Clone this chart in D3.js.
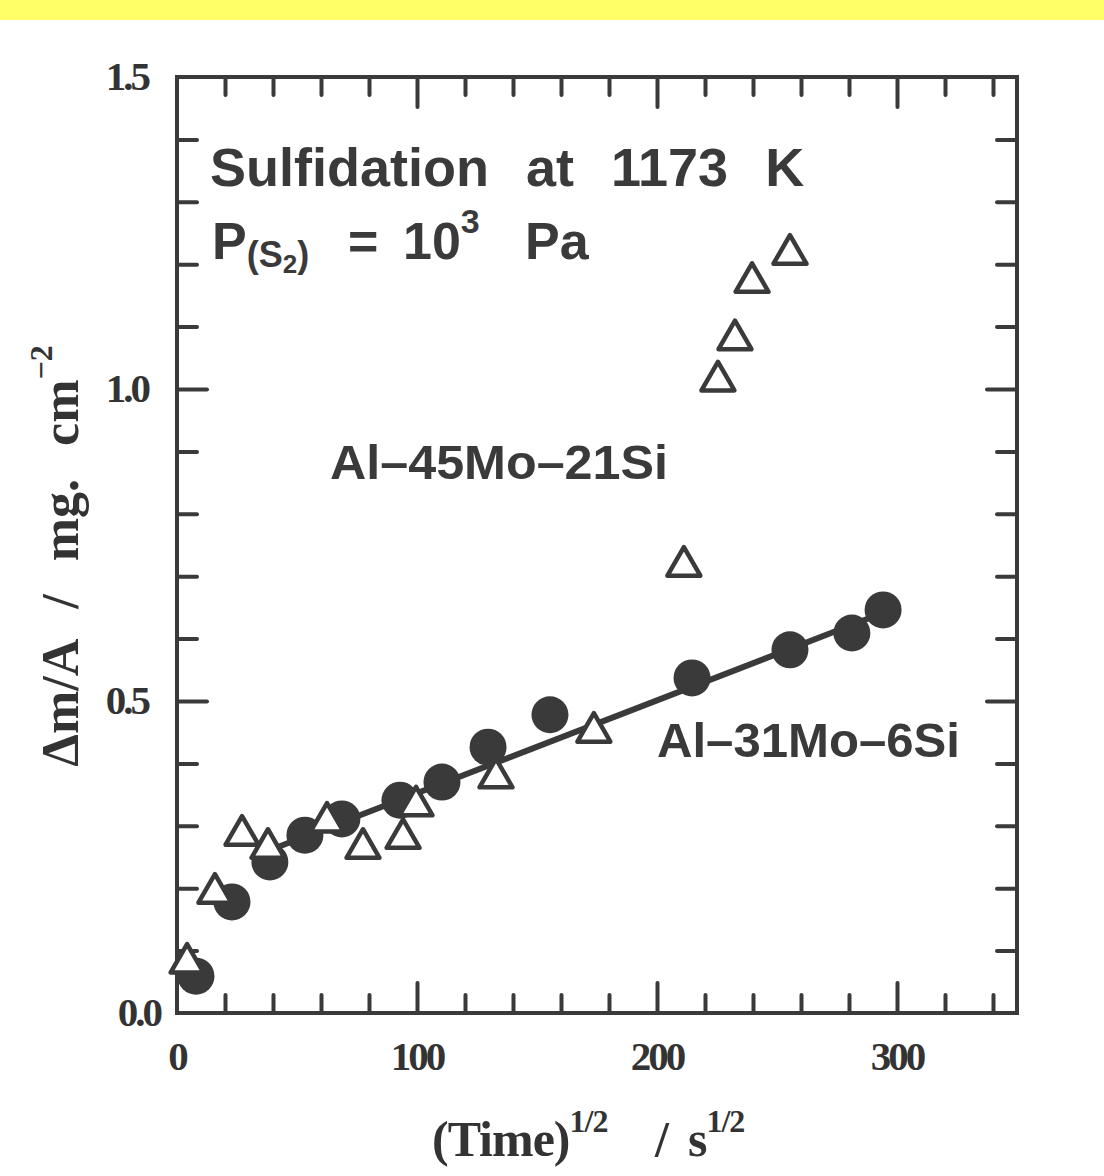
<!DOCTYPE html>
<html lang="en">
<head>
<meta charset="UTF-8">
<title>Sulfidation at 1173 K</title>
<style>
  body { margin: 0; background: #fff; }
  .serif { font-family: "Liberation Serif", "Times New Roman", serif; font-weight: bold; fill: #333; }
  .sans { font-family: "Liberation Sans", Arial, sans-serif; font-weight: bold; fill: #3a3a3a; }
</style>
</head>
<body>
<div id="chart"></div>
<script src="https://d3js.org/d3.v7.min.js"></script>
<script>

// Al-31Mo-6Si (filled circles)
var circX = [7.9, 22.9, 38.7, 53.3, 68.7, 92.9, 110.4, 129.6, 155.4, 214.6, 255.4, 281.2, 294.2];
var circY = [0.059, 0.178, 0.242, 0.285, 0.311, 0.341, 0.370, 0.426, 0.478, 0.537, 0.582, 0.609, 0.646];

// Al-45Mo-21Si (open triangles)
var triX = [4.2, 15.8, 27.1, 37.9, 62.5, 77.5, 94.2, 99.6, 132.9, 173.7, 211.2, 225.4, 232.5, 239.6, 255.4];
var triY = [0.080, 0.192, 0.285, 0.264, 0.306, 0.264, 0.280, 0.332, 0.377, 0.450, 0.716, 1.013, 1.079, 1.171, 1.216];

// straight fit through the circles
var fitX = [38, 294];
var fitY = [0.26, 0.641];

// ticks
var xMajor = [0, 100, 200, 300];
var xMinor = [20, 40, 60, 80, 120, 140, 160, 180, 220, 240, 260, 280, 320, 340];
var yMajor = [0, 0.5, 1.0, 1.5];
var yMinor = [0.1, 0.2, 0.3, 0.4, 0.6, 0.7, 0.8, 0.9, 1.1, 1.2, 1.3, 1.4];

var width = 1104, height = 1176;
var mLeft = 177, mRight = 1017, mTop = 77, mBottom = 1013;
var ink = "#3a3a3a";

var svg = d3.select("#chart").append("svg")
    .attr("width", width)
    .attr("height", height);

// yellow strip on top
svg.append("rect").attr("x", 0).attr("y", 0).attr("width", width).attr("height", 20)
    .attr("fill", "#ffff66");

var x = d3.scaleLinear().domain([0, 350]).range([mLeft, mRight]);
var y = d3.scaleLinear().domain([0, 1.5]).range([mBottom, mTop]);

// inward ticks on all four sides
function ticks(axis, vals, len, tx) {
    var g = svg.append("g").attr("transform", tx)
        .call(axis.tickValues(vals).tickSize(-len).tickFormat(""));
    g.select(".domain").remove();
    g.selectAll("line").attr("stroke", ink).attr("stroke-width", 4).attr("stroke-linecap", "round");
}
ticks(d3.axisBottom(x), xMinor, 18, "translate(0," + mBottom + ")");
ticks(d3.axisBottom(x), xMajor.slice(1), 30, "translate(0," + mBottom + ")");
ticks(d3.axisTop(x), xMinor, 18, "translate(0," + mTop + ")");
ticks(d3.axisTop(x), xMajor.slice(1), 30, "translate(0," + mTop + ")");
ticks(d3.axisLeft(y), yMinor, 20, "translate(" + mLeft + ",0)");
ticks(d3.axisLeft(y), yMajor.slice(1, 3), 30, "translate(" + mLeft + ",0)");
ticks(d3.axisRight(y), yMinor, 20, "translate(" + mRight + ",0)");
ticks(d3.axisRight(y), yMajor.slice(1, 3), 30, "translate(" + mRight + ",0)");

// frame
svg.append("rect")
    .attr("x", mLeft).attr("y", mTop)
    .attr("width", mRight - mLeft).attr("height", mBottom - mTop)
    .attr("fill", "none").attr("stroke", ink).attr("stroke-width", 4);

// tick labels
svg.selectAll(".xl").data(xMajor).enter().append("text")
    .attr("class", "serif")
    .attr("x", d => x(d)).attr("y", 1070)
    .attr("text-anchor", "middle")
    .style("font-size", "41px").style("letter-spacing", "-3px")
    .text(d => d);

svg.selectAll(".yl").data(yMajor).enter().append("text")
    .attr("class", "serif")
    .attr("x", d => d === 0 ? 160 : 148).attr("y", d => y(d) + 13)
    .attr("text-anchor", "end")
    .style("font-size", "41px").style("letter-spacing", "-3px")
    .text(d3.format(".1f"));

// axis titles
var xt = svg.append("text").attr("class", "serif")
    .attr("x", 432).attr("y", 1156)
    .style("font-size", "50px").style("letter-spacing", "-1px");
xt.append("tspan").text("(Time)");
xt.append("tspan").attr("dy", -24).style("font-size", "32px").text("1/2");
xt.append("tspan").attr("x", 655).attr("dy", 24).text("/");
xt.append("tspan").attr("x", 688).text("s");
xt.append("tspan").attr("dy", -24).style("font-size", "32px").text("1/2");

var yt = svg.append("text").attr("class", "serif")
    .attr("transform", "translate(78,556) rotate(-90)")
    .attr("text-anchor", "middle")
    .style("font-size", "52px").style("word-spacing", "20px")
    .style("white-space", "pre");
yt.append("tspan").text("\u0394m/A / mg. cm");
yt.append("tspan").attr("dy", -26).style("font-size", "32px").text("\u22122");

// fit line
svg.append("path")
    .datum(d3.zip(fitX, fitY))
    .attr("d", d3.line().x(d => x(d[0])).y(d => y(d[1])))
    .attr("fill", "none").attr("stroke", ink).attr("stroke-width", 6);

// circles
svg.append("g").selectAll("circle")
    .data(d3.zip(circX, circY))
    .enter().append("circle")
    .attr("cx", d => x(d[0])).attr("cy", d => y(d[1]))
    .attr("r", 18.5)
    .attr("fill", ink);

// triangles
var tri = d3.symbol().type(d3.symbolTriangle).size(470);
svg.append("g").selectAll("path")
    .data(d3.zip(triX, triY))
    .enter().append("path")
    .attr("d", tri)
    .attr("transform", d => "translate(" + x(d[0]) + "," + y(d[1]) + ")")
    .attr("fill", "#fff").attr("stroke", ink).attr("stroke-width", 4.5)
    .attr("stroke-linejoin", "round");

// annotations
svg.append("text").attr("class", "sans")
    .attr("x", 210).attr("y", 186)
    .style("font-size", "54px").style("word-spacing", "22px")
    .text("Sulfidation at 1173 K");

var p = svg.append("text").attr("class", "sans")
    .attr("x", 212).attr("y", 259)
    .style("font-size", "52px");
p.append("tspan").text("P");
p.append("tspan").attr("dy", 8).style("font-size", "36px").text("(S");
p.append("tspan").attr("dy", 6).style("font-size", "26px").text("2");
p.append("tspan").attr("dy", -6).style("font-size", "36px").text(")");
p.append("tspan").attr("x", 348).attr("dy", -8).text("=");
p.append("tspan").attr("x", 403).text("10");
p.append("tspan").attr("dy", -26).style("font-size", "34px").text("3");
p.append("tspan").attr("x", 525).attr("dy", 26).text("Pa");

svg.append("text").attr("class", "sans")
    .attr("x", 330).attr("y", 479)
    .style("font-size", "48px")
    .attr("textLength", 338).attr("lengthAdjust", "spacingAndGlyphs")
    .text("Al\u201345Mo\u201321Si");

svg.append("text").attr("class", "sans")
    .attr("x", 657).attr("y", 757)
    .style("font-size", "48px")
    .attr("textLength", 303).attr("lengthAdjust", "spacingAndGlyphs")
    .text("Al\u201331Mo\u20136Si");

</script>
</body>
</html>
